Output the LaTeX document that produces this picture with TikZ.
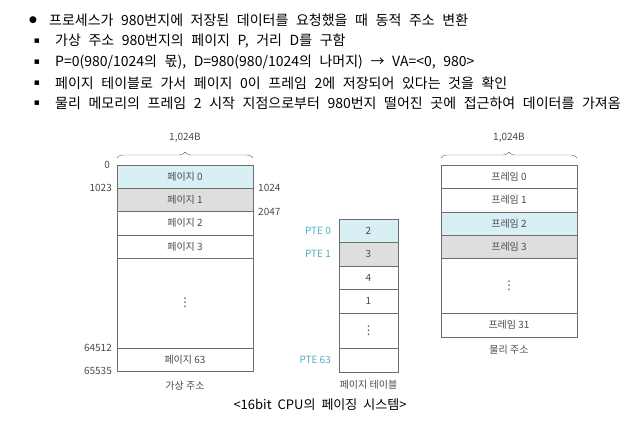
\documentclass[tikz,border=0pt]{standalone}
\usepackage{fontspec}
\setmainfont{Noto Sans CJK KR}
\newfontfamily\symfont{DejaVu Sans}
\usetikzlibrary{decorations.pathreplacing}
\definecolor{cellblue}{RGB}{216,240,244}
\definecolor{cellgray}{RGB}{222,222,222}
\definecolor{linegray}{RGB}{110,110,110}
\definecolor{txtgray}{RGB}{75,75,75}
\definecolor{ptecyan}{RGB}{80,178,200}
\newcommand{\figsize}{\fontsize{10}{12}\selectfont}
\newcommand{\itemsize}{\fontsize{14}{16}\selectfont\spaceskip=7.6pt\relax}
\newcommand{\capsize}{\fontsize{13}{15}\selectfont\spaceskip=6pt\relax}

\begin{document}
\begin{tikzpicture}[x=1pt,y=-1pt,
      cell/.style={draw=linegray,fill=white,minimum width=136pt,inner sep=0pt,outer sep=0pt,text=txtgray,font=\figsize},
      pte/.style={cell,minimum width=59pt},
      addr/.style={inner sep=0pt,text=txtgray,font=\figsize},
      vdot/.style={inner sep=0pt,text=txtgray,font=\symfont\fontsize{12}{14}\selectfont},
      brace/.style={draw=linegray,decorate,decoration={brace,amplitude=6pt}},
      item/.style={anchor=west,inner sep=0pt,font=\itemsize},
      dot/.style={inner sep=0pt,font=\symfont\fontsize{9}{10}\selectfont}]
    \useasboundingbox[fill=white] (0,0) rectangle (638,426);
    \node[dot] at (33,20) (d1) {●};
    \node[item] at (49,20) (l1) {프로세스가 980번지에 저장된 데이터를 요청했을 때 동적 주소 변환};
    \node[dot] at (37,41) (d2) {▪}; \node[item] at (55,41) (l2) {가상 주소 980번지의 페이지 P, 거리 D를 구함};
    \node[dot] at (37,62) (d3) {▪}; \node[item] at (55,62) (l3) {P=0(980/1024의 몫), D=980(980/1024의 나머지) → VA=<0, 980>};
    \node[dot] at (37,83) (d4) {▪}; \node[item] at (55,83) (l4) {페이지 테이블로 가서 페이지 0이 프레임 2에 저장되어 있다는 것을 확인};
    \node[dot] at (37,103) (d5) {▪}; \node[item] at (55,103) (l5) {물리 메모리의 프레임 2 시작 지점으로부터 980번지 떨어진 곳에 접근하여 데이터를 가져옴};

    \node[cell,fill=cellblue,minimum height=23pt] at (185,176.5) (v0) {페이지 0};
    \node[cell,fill=cellgray,minimum height=23pt] at (185,199.5) (v1) {페이지 1};
    \node[cell,minimum height=24pt] at (185,223) (v2) {페이지 2};
    \node[cell,minimum height=23pt] at (185,246.5) (v3) {페이지 3};
    \node[cell,minimum height=90pt] at (185,303) (v4) {};
    \node[cell,minimum height=23pt] at (185,359.5) (v5) {페이지 63};
    \node[vdot] at (v4) (v4d) {⋮};
    \draw[brace] ([yshift=7pt]v0.north west) -- ([yshift=7pt]v0.north east);
    \node[addr] at (185,138) (vw) {1,024B};
    \node[addr,anchor=east] at (110,165) (a0) {0};
    \node[addr,anchor=east] at (112,188) (a1) {1023};
    \node[addr,anchor=west] at (258,188) (a2) {1024};
    \node[addr,anchor=west] at (258,212) (a3) {2047};
    \node[addr,anchor=east] at (112,348) (a4) {64512};
    \node[addr,anchor=east] at (112,371) (a5) {65535};
    \node[addr] at (185,386) (vn) {가상 주소};

    \node[pte,fill=cellblue,minimum height=23pt] at (368.5,230.5) (t0) {2};
    \node[pte,fill=cellgray,minimum height=24pt] at (368.5,254) (t1) {3};
    \node[pte,minimum height=23pt] at (368.5,277.5) (t2) {4};
    \node[pte,minimum height=24pt] at (368.5,301) (t3) {1};
    \node[pte,minimum height=35pt] at (368.5,330.5) (t4) {};
    \node[pte,minimum height=24pt] at (368.5,360) (t5) {};
    \node[vdot] at (t4) (t4d) {⋮};
    \node[addr,text=ptecyan,anchor=east] at (331,230.5) (p0) {PTE 0};
    \node[addr,text=ptecyan,anchor=east] at (331,254) (p1) {PTE 1};
    \node[addr,text=ptecyan,anchor=east] at (331,360) (p2) {PTE 63};
    \node[addr] at (368.5,385) (tn) {페이지 테이블};

    \node[cell,minimum height=23pt] at (509,176.5) (f0) {프레임 0};
    \node[cell,minimum height=24pt] at (509,200) (f1) {프레임 1};
    \node[cell,fill=cellblue,minimum height=23pt] at (509,223.5) (f2) {프레임 2};
    \node[cell,fill=cellgray,minimum height=23pt] at (509,246.5) (f3) {프레임 3};
    \node[cell,minimum height=55pt] at (509,285.5) (f4) {};
    \node[cell,minimum height=24pt] at (509,325) (f5) {프레임 31};
    \node[vdot] at (f4) (f4d) {⋮};
    \draw[brace] ([yshift=7pt]f0.north west) -- ([yshift=7pt]f0.north east);
    \node[addr] at (509,138) (fw) {1,024B};
    \node[addr] at (509,350) (fn) {물리 주소};

    \node[font=\capsize] at (320,405) (cap) {<16bit CPU의 페이징 시스템>};
\end{tikzpicture}
\end{document}
